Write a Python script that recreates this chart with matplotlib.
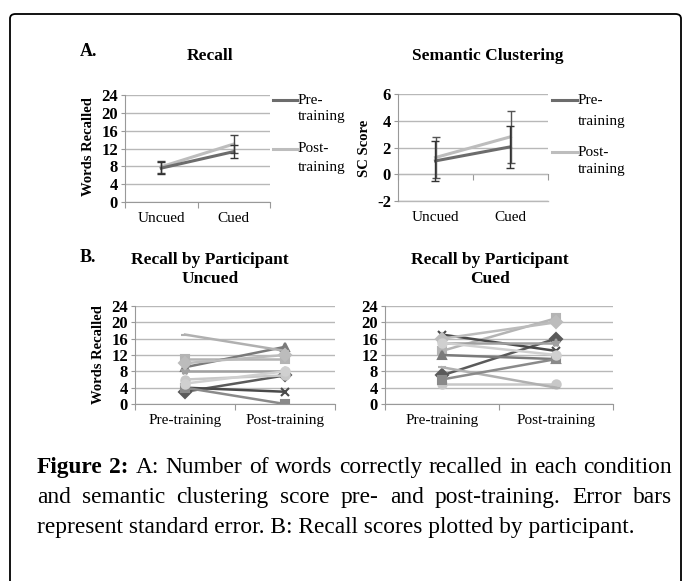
import numpy as np
import matplotlib
matplotlib.use('Agg')
import matplotlib.pyplot as plt
from matplotlib.patches import FancyBboxPatch
from matplotlib.lines import Line2D

# A: group means with standard errors
CONDITIONS = ['Uncued', 'Cued']
RECALL_PRE = [7.6, 11.3]
RECALL_PRE_SE = [1.3, 1.4]
RECALL_POST = [7.9, 13.0]
RECALL_POST_SE = [1.4, 2.1]
SC_PRE = [1.0, 2.05]
SC_PRE_SE = [1.5, 1.55]
SC_POST = [1.25, 2.8]
SC_POST_SE = [1.55, 1.95]

# B: recall per participant (pre, post)
SESSIONS = ['Pre-training', 'Post-training']
UNCUED_PRE = [3, 11, 9, 4, 8, 6, 17, 4, 10, 5]
UNCUED_POST = [7, 11, 14, 3, 8, 7, 13, 0, 12, 8]
CUED_PRE = [7, 13, 12, 17, 15, 5, 9, 6, 16, 15]
CUED_POST = [16, 21, 11, 13, 15, 5, 4, 11, 20, 12]

MARKERS = ['D', 's', '^', 'x', '*', 'o', '_', 's', 'D', 'o']
COLORS = ['#5a5a5a', '#b4b4b4', '#7a7a7a', '#4a4a4a', '#a0a0a0',
          '#c8c8c8', '#b0b0b0', '#8a8a8a', '#bcbcbc', '#d0d0d0']

PRE_C = '#6c6c6c'
POST_C = '#bdbdbd'
GRID_C = '#b8b8b8'
SERIF = 'Liberation Serif'

W, H = 683, 581
plt.rcParams['font.family'] = SERIF
plt.rcParams['axes.unicode_minus'] = False
fig = plt.figure(figsize=(W / 100, H / 100), dpi=100)


def fx(px):
    return px / W


def fy(py):
    return 1 - py / H


def add_axes(left, top, right, bottom):
    return fig.add_axes([fx(left), fy(bottom), fx(right - left), (bottom - top) / H])


def style_axes(ax, ylim, step, labels):
    ax.set_xlim(0, 2)
    ax.set_ylim(*ylim)
    ax.set_yticks(np.arange(ylim[0], ylim[1] + 0.1, step))
    ax.yaxis.grid(True, color=GRID_C, lw=1)
    ax.set_axisbelow(True)
    for s in ['top', 'right']:
        ax.spines[s].set_visible(False)
    for s in ['left', 'bottom']:
        ax.spines[s].set_color('#999999')
    ax.set_xticks([0, 1, 2])
    ax.set_xticklabels(['', '', ''])
    ax.set_xticks([0.5, 1.5], minor=True)
    ax.set_xticklabels(labels, minor=True)
    ax.tick_params(axis='x', which='minor', length=0, pad=7, labelsize=11)
    ax.tick_params(axis='x', which='major', length=4, color='#999999')
    ax.tick_params(axis='y', length=3, color='#999999', labelsize=12, pad=2)
    for lab in ax.get_yticklabels():
        lab.set_fontweight('bold')


x = np.array([0.5, 1.5])

# ---- A: Recall
ax1 = add_axes(125, 95, 270, 202)
style_axes(ax1, (0, 24), 4, CONDITIONS)
ax1.plot(x, RECALL_POST, color=POST_C, lw=2.2)
ax1.plot(x, RECALL_PRE, color=PRE_C, lw=2.2)
ax1.errorbar(x, RECALL_POST, yerr=RECALL_POST_SE, fmt='none', ecolor='#444444', elinewidth=1, capsize=3)
ax1.errorbar(x, RECALL_PRE, yerr=RECALL_PRE_SE, fmt='none', ecolor='#333333', elinewidth=1, capsize=3)

# ---- A: Semantic clustering
ax2 = add_axes(398, 94, 548, 201)
style_axes(ax2, (-2, 6), 2, CONDITIONS)
ax2.spines['bottom'].set_visible(False)
ax2.axhline(-2, color=GRID_C, lw=1, clip_on=False, zorder=0)
ax2.tick_params(axis='x', which='major', length=0)
zero_ax = ax2.secondary_xaxis(0, transform=ax2.transData)
zero_ax.set_xticks([0, 1, 2])
zero_ax.set_xticklabels(['', '', ''])
zero_ax.tick_params(length=4, color='#999999')
zero_ax.spines['bottom'].set_color('#999999')
ax2.plot(x, SC_POST, color=POST_C, lw=2.2)
ax2.plot(x, SC_PRE, color=PRE_C, lw=2.2)
ax2.errorbar(x + 0.01, SC_POST, yerr=SC_POST_SE, fmt='none', ecolor='#555555', elinewidth=1, capsize=3)
ax2.errorbar(x - 0.01, SC_PRE, yerr=SC_PRE_SE, fmt='none', ecolor='#333333', elinewidth=1, capsize=3)

# ---- B: per participant
ax3 = add_axes(135, 306, 335, 404)
style_axes(ax3, (0, 24), 4, SESSIONS)
ax4 = add_axes(385, 306, 613, 404)
style_axes(ax4, (0, 24), 4, SESSIONS)
for ax, pre, post in [(ax3, UNCUED_PRE, UNCUED_POST), (ax4, CUED_PRE, CUED_POST)]:
    for i in range(len(pre)):
        ax.plot(x, [pre[i], post[i]], color=COLORS[i], lw=1.8,
                marker=MARKERS[i], ms=6, mec=COLORS[i], mfc=COLORS[i], mew=1.5)

# ---- titles / labels
bold = dict(fontweight='bold', fontsize=12.5, ha='center', va='center')
fig.text(fx(80), fy(52), 'A.', fontweight='bold', fontsize=13, va='center')
fig.text(fx(80), fy(258), 'B.', fontweight='bold', fontsize=13, va='center')
fig.text(fx(210), fy(56), 'Recall', **bold)
fig.text(fx(488), fy(56), 'Semantic Clustering', **bold)
fig.text(fx(210), fy(260), 'Recall by Participant', **bold)
fig.text(fx(210), fy(279), 'Uncued', **bold)
fig.text(fx(490), fy(260), 'Recall by Participant', **bold)
fig.text(fx(490), fy(279), 'Cued', **bold)

ylab = dict(fontweight='bold', fontsize=10.5, rotation=90, ha='center', va='center')
fig.text(fx(88), fy(147), 'Words Recalled', **ylab)
fig.text(fx(364), fy(148), 'SC Score', **ylab)
fig.text(fx(98), fy(355), 'Words Recalled', **ylab)


# ---- legends for panel A
def legend_entry(x0, x1, y_line, y_second, first, second, color):
    fig.add_artist(Line2D([fx(x0), fx(x1)], [fy(y_line), fy(y_line)], color=color, lw=2.2,
                          transform=fig.transFigure))
    fig.text(fx(x1 + 1), fy(y_line), first, fontsize=11, va='center')
    fig.text(fx(x1 + 1), fy(y_second), second, fontsize=11, va='center')


legend_entry(273, 297, 100, 117, 'Pre-', 'training', PRE_C)
legend_entry(273, 297, 149, 167, 'Post-', 'training', POST_C)
legend_entry(552, 577, 100, 121, 'Pre-', 'training', PRE_C)
legend_entry(552, 577, 152, 170, 'Post-', 'training', POST_C)

# ---- caption (justified)
renderer = fig.canvas.get_renderer()
CAP_SIZE = 16.8


def justified(tokens, y, x0, x1):
    texts = [fig.text(0, fy(y), w, fontsize=CAP_SIZE, va='baseline', fontweight=fw) for w, fw in tokens]
    widths = [t.get_window_extent(renderer).width for t in texts]
    gap = (x1 - x0 - sum(widths)) / (len(texts) - 1)
    cur = x0
    for t, wd in zip(texts, widths):
        t.set_x(fx(cur))
        cur += wd + gap


line1 = [('Figure', 'bold'), ('2:', 'bold')] + [(w, 'normal') for w in
         'A: Number of words correctly recalled in each condition'.split()]
line2 = [(w, 'normal') for w in
         'and semantic clustering score pre- and post-training. Error bars'.split()]
justified(line1, 473, 37, 672)
justified(line2, 503, 37, 672)
fig.text(fx(37), fy(533), 'represent standard error. B: Recall scores plotted by participant.',
         fontsize=CAP_SIZE, va='baseline')

# ---- rounded frame
fig.add_artist(FancyBboxPatch((fx(10), -0.05), fx(681 - 10), fy(14) + 0.05,
                              boxstyle='round,pad=0,rounding_size=0.008',
                              transform=fig.transFigure, fill=False, ec='black', lw=1.3))

fig.savefig('out.png', dpi=100)
